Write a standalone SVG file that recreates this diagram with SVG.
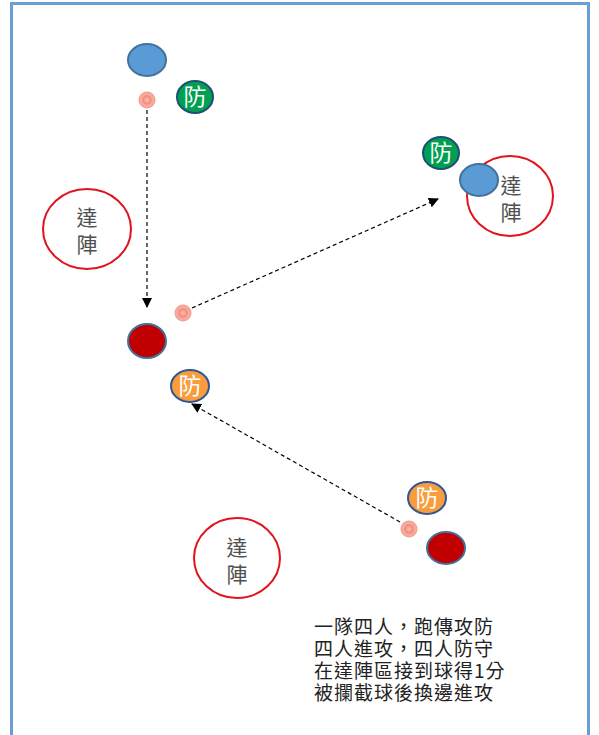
<svg xmlns="http://www.w3.org/2000/svg" width="599" height="735" viewBox="0 0 599 735">
<defs>
<marker id="ah" markerWidth="10" markerHeight="10" refX="9" refY="5" orient="auto" markerUnits="userSpaceOnUse">
<path d="M0,0 L10,5 L0,10 z" fill="#000"/>
</marker>
<radialGradient id="ballg">
<stop offset="0" stop-color="#f9c4b8"/>
<stop offset="0.45" stop-color="#f28d7c"/>
<stop offset="0.7" stop-color="#f6b0a3"/>
<stop offset="1" stop-color="#f49a8a"/>
</radialGradient>
</defs>
<style>
.frame{fill:none;stroke:#6a9fd4;stroke-width:3}
.goal{fill:#fff;stroke:#e0141e;stroke-width:2}
.goaltxt{font-family:"Noto Sans CJK TC","Noto Sans CJK SC",sans-serif;font-size:21px;fill:#505050;text-anchor:middle}
.blue{fill:#5b9bd5;stroke:#41719c;stroke-width:2}
.red{fill:#c00000;stroke:#41719c;stroke-width:2}
.green{fill:#00a050;stroke:#1f4e79;stroke-width:2}
.orange{fill:#f89c3c;stroke:#2f5597;stroke-width:2}
.def{font-family:"Noto Sans CJK TC","Noto Sans CJK SC",sans-serif;font-size:23px;fill:#fff;text-anchor:middle}
.ball{fill:url(#ballg)}
.pass{stroke:#000;stroke-width:1.2;stroke-dasharray:4,3;fill:none}
.note{font-family:"Noto Sans CJK TC","Noto Sans CJK SC",sans-serif;font-size:19px;letter-spacing:1px;fill:#222}
</style>
<rect width="599" height="735" fill="#fff"/>
<rect class="frame" x="11.5" y="3.5" width="577" height="740"/>

<g id="connectors">
<line class="pass" x1="147" y1="110" x2="147" y2="307" marker-end="url(#ah)"/>
<line class="pass" x1="192" y1="308" x2="438" y2="199" marker-end="url(#ah)"/>
<line class="pass" x1="400" y1="522" x2="192" y2="404" marker-end="url(#ah)"/>
</g>

<g id="goal-left">
<ellipse class="goal" cx="87" cy="229" rx="44" ry="40"/>
<text class="goaltxt" x="87" y="225">達</text>
<text class="goaltxt" x="87" y="252">陣</text>
</g>
<g id="goal-right">
<ellipse class="goal" cx="510" cy="196" rx="43" ry="40"/>
<text class="goaltxt" x="511" y="193">達</text>
<text class="goaltxt" x="511" y="220">陣</text>
</g>
<g id="goal-bottom">
<ellipse class="goal" cx="237" cy="558" rx="43" ry="40"/>
<text class="goaltxt" x="237" y="555">達</text>
<text class="goaltxt" x="237" y="582">陣</text>
</g>

<g id="blue-top"><ellipse class="blue" cx="147" cy="60" rx="19" ry="16"/></g>
<g id="ball-top"><circle class="ball" cx="147" cy="100" r="8.5"/></g>
<g id="def-green-top"><ellipse class="green" cx="195" cy="97" rx="18" ry="16"/><text class="def" x="195" y="105">防</text></g>

<g id="def-green-right"><ellipse class="green" cx="441" cy="153" rx="18" ry="16"/><text class="def" x="441" y="161">防</text></g>
<g id="blue-right"><ellipse class="blue" cx="479" cy="180" rx="19" ry="16"/></g>

<g id="ball-mid"><circle class="ball" cx="183" cy="313" r="8.5"/></g>
<g id="red-mid"><ellipse class="red" cx="147" cy="341" rx="19" ry="17"/></g>
<g id="def-orange-mid"><ellipse class="orange" cx="190" cy="386" rx="19" ry="16"/><text class="def" x="190" y="394">防</text></g>

<g id="def-orange-bottom"><ellipse class="orange" cx="427" cy="498" rx="19" ry="16"/><text class="def" x="427" y="506">防</text></g>
<g id="ball-bottom"><circle class="ball" cx="409" cy="529" r="8.5"/></g>
<g id="red-bottom"><ellipse class="red" cx="446" cy="548" rx="19" ry="16"/></g>

<g id="notes">
<text class="note" x="314" y="634">一隊四人，跑傳攻防</text>
<text class="note" x="314" y="656">四人進攻，四人防守</text>
<text class="note" x="314" y="678">在達陣區接到球得1分</text>
<text class="note" x="314" y="700">被攔截球後換邊進攻</text>
</g>
</svg>
